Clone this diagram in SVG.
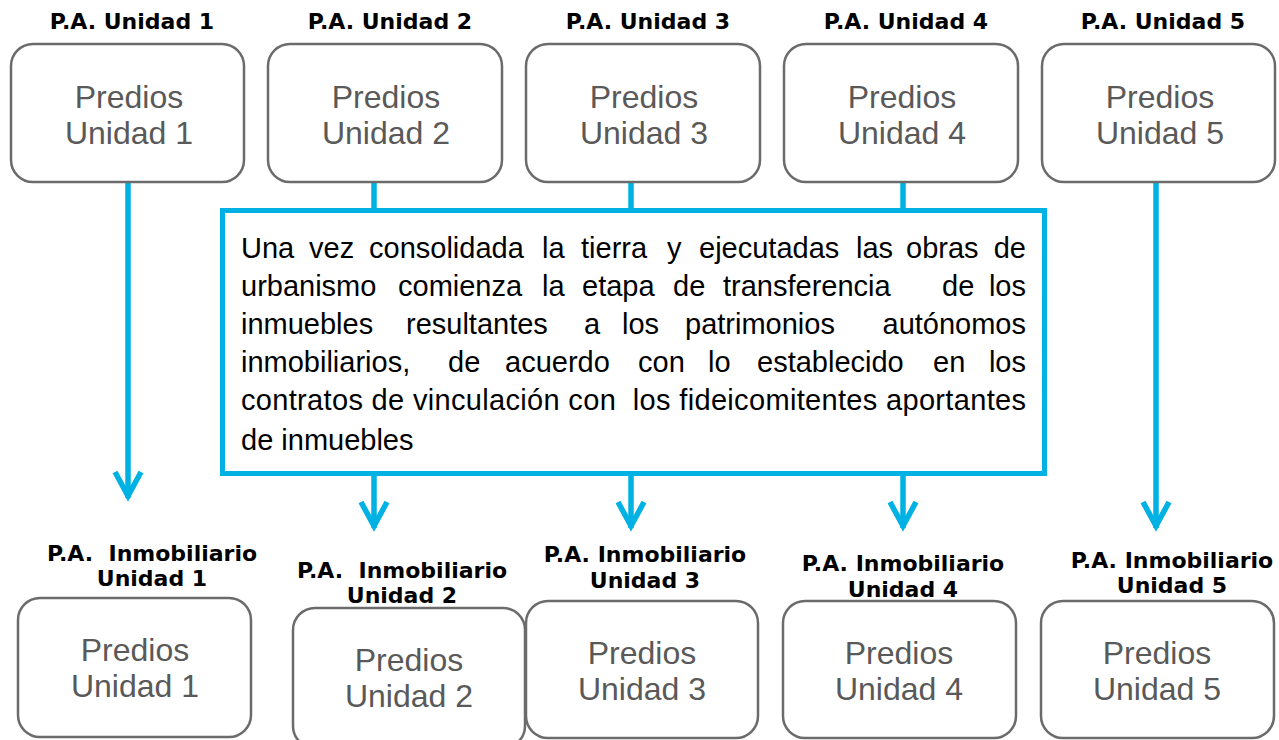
<svg xmlns="http://www.w3.org/2000/svg" width="1279" height="740" viewBox="0 0 1279 740">
<style>
.box{fill:#fff;stroke:#6b6b6b;stroke-width:2.5}
.bt{font-family:"Liberation Sans",Arial,sans-serif;font-size:32px;fill:#595959;text-anchor:middle}
.ttl{font-family:"DejaVu Sans",Verdana,sans-serif;font-weight:bold;font-size:22px;fill:#000;text-anchor:middle;white-space:pre}
.con{stroke:#00B2E3;stroke-width:5.5;fill:none}
.mt{font-family:"Liberation Sans",Arial,sans-serif;font-size:29px;fill:#000;white-space:pre}
.e{text-anchor:end}
</style>
<defs>
<marker id="chev" viewBox="-32 -16 36 32" refX="0" refY="0" markerWidth="36" markerHeight="32" markerUnits="userSpaceOnUse" orient="auto" overflow="visible">
<path d="M-26,-13 L-2,0 L-26,13" fill="none" stroke="#00B2E3" stroke-width="5.5"/>
</marker>
</defs>
<g id="connectors">
<line class="con" x1="128" y1="182" x2="128" y2="498" marker-end="url(#chev)"/>
<line class="con" x1="374" y1="182" x2="374" y2="210"/>
<line class="con" x1="631" y1="182" x2="631" y2="210"/>
<line class="con" x1="903" y1="182" x2="903" y2="210"/>
<line class="con" x1="374" y1="474" x2="374" y2="528" marker-end="url(#chev)"/>
<line class="con" x1="631" y1="474" x2="631" y2="528" marker-end="url(#chev)"/>
<line class="con" x1="903" y1="474" x2="903" y2="528" marker-end="url(#chev)"/>
<line class="con" x1="1156" y1="182" x2="1156" y2="528" marker-end="url(#chev)"/>
</g>
<g id="top1"><text class="ttl" x="132" y="29">P.A. Unidad 1</text><rect class="box" x="11" y="44" width="233" height="138" rx="22"/><text class="bt" x="129" y="108">Predios</text><text class="bt" x="129" y="144">Unidad 1</text></g>
<g id="top2"><text class="ttl" x="390" y="29">P.A. Unidad 2</text><rect class="box" x="268" y="44" width="234" height="138" rx="22"/><text class="bt" x="386" y="108">Predios</text><text class="bt" x="386" y="144">Unidad 2</text></g>
<g id="top3"><text class="ttl" x="648" y="29">P.A. Unidad 3</text><rect class="box" x="526" y="44" width="234" height="138" rx="22"/><text class="bt" x="644" y="108">Predios</text><text class="bt" x="644" y="144">Unidad 3</text></g>
<g id="top4"><text class="ttl" x="906" y="29">P.A. Unidad 4</text><rect class="box" x="784" y="44" width="234" height="138" rx="22"/><text class="bt" x="902" y="108">Predios</text><text class="bt" x="902" y="144">Unidad 4</text></g>
<g id="top5"><text class="ttl" x="1163" y="29">P.A. Unidad 5</text><rect class="box" x="1042" y="44" width="233" height="138" rx="22"/><text class="bt" x="1160" y="108">Predios</text><text class="bt" x="1160" y="144">Unidad 5</text></g>
<g id="center">
<rect x="222.5" y="210.5" width="822" height="263" fill="#fff" stroke="#00B2E3" stroke-width="5"/>
<text class="mt" y="258"><tspan x="241">Una</tspan><tspan x="309">vez</tspan><tspan x="369">consolidada</tspan><tspan x="542">la</tspan><tspan x="581">tierra</tspan><tspan x="667">y</tspan><tspan x="699">ejecutadas</tspan><tspan x="856">las</tspan><tspan x="906">obras</tspan></text>
<text class="mt e" x="1026" y="258">de</text>
<text class="mt" y="296"><tspan x="241">urbanismo</tspan><tspan x="398">comienza</tspan><tspan x="542">la</tspan><tspan x="582">etapa</tspan><tspan x="673">de</tspan><tspan x="723">transferencia</tspan><tspan x="942">de</tspan></text>
<text class="mt e" x="1026" y="296">los</text>
<text class="mt" y="334"><tspan x="241">inmuebles</tspan><tspan x="406">resultantes</tspan><tspan x="584">a</tspan><tspan x="622">los</tspan><tspan x="685">patrimonios</tspan></text>
<text class="mt e" x="1026" y="334">autónomos</text>
<text class="mt" y="372"><tspan x="241">inmobiliarios,</tspan><tspan x="448">de</tspan><tspan x="505">acuerdo</tspan><tspan x="638">con</tspan><tspan x="708">lo</tspan><tspan x="757">establecido</tspan><tspan x="933">en</tspan></text>
<text class="mt e" x="1026" y="372">los</text>
<text class="mt" x="241" y="410" textLength="785" lengthAdjust="spacing">contratos de vinculación con  los fideicomitentes aportantes</text>
<text class="mt" x="241" y="450">de inmuebles</text>
</g>
<g id="bot1"><text class="ttl" x="152" y="561">P.A.  Inmobiliario</text><text class="ttl" x="152" y="586">Unidad 1</text><rect class="box" x="18" y="598" width="233" height="139" rx="22"/><text class="bt" x="135" y="661">Predios</text><text class="bt" x="135" y="697">Unidad 1</text></g>
<g id="bot2"><text class="ttl" x="402" y="578">P.A.  Inmobiliario</text><text class="ttl" x="402" y="603">Unidad 2</text><rect class="box" x="293" y="608" width="232" height="140" rx="22"/><text class="bt" x="409" y="671">Predios</text><text class="bt" x="409" y="707">Unidad 2</text></g>
<g id="bot3"><text class="ttl" x="645" y="562">P.A. Inmobiliario</text><text class="ttl" x="645" y="588">Unidad 3</text><rect class="box" x="526" y="601" width="232" height="137" rx="22"/><text class="bt" x="642" y="664">Predios</text><text class="bt" x="642" y="700">Unidad 3</text></g>
<g id="bot4"><text class="ttl" x="903" y="571">P.A. Inmobiliario</text><text class="ttl" x="903" y="597">Unidad 4</text><rect class="box" x="783" y="601" width="233" height="137" rx="22"/><text class="bt" x="899" y="664">Predios</text><text class="bt" x="899" y="700">Unidad 4</text></g>
<g id="bot5"><text class="ttl" x="1172" y="568">P.A. Inmobiliario</text><text class="ttl" x="1172" y="593">Unidad 5</text><rect class="box" x="1041" y="601" width="233" height="137" rx="22"/><text class="bt" x="1157" y="664">Predios</text><text class="bt" x="1157" y="700">Unidad 5</text></g>
</svg>
